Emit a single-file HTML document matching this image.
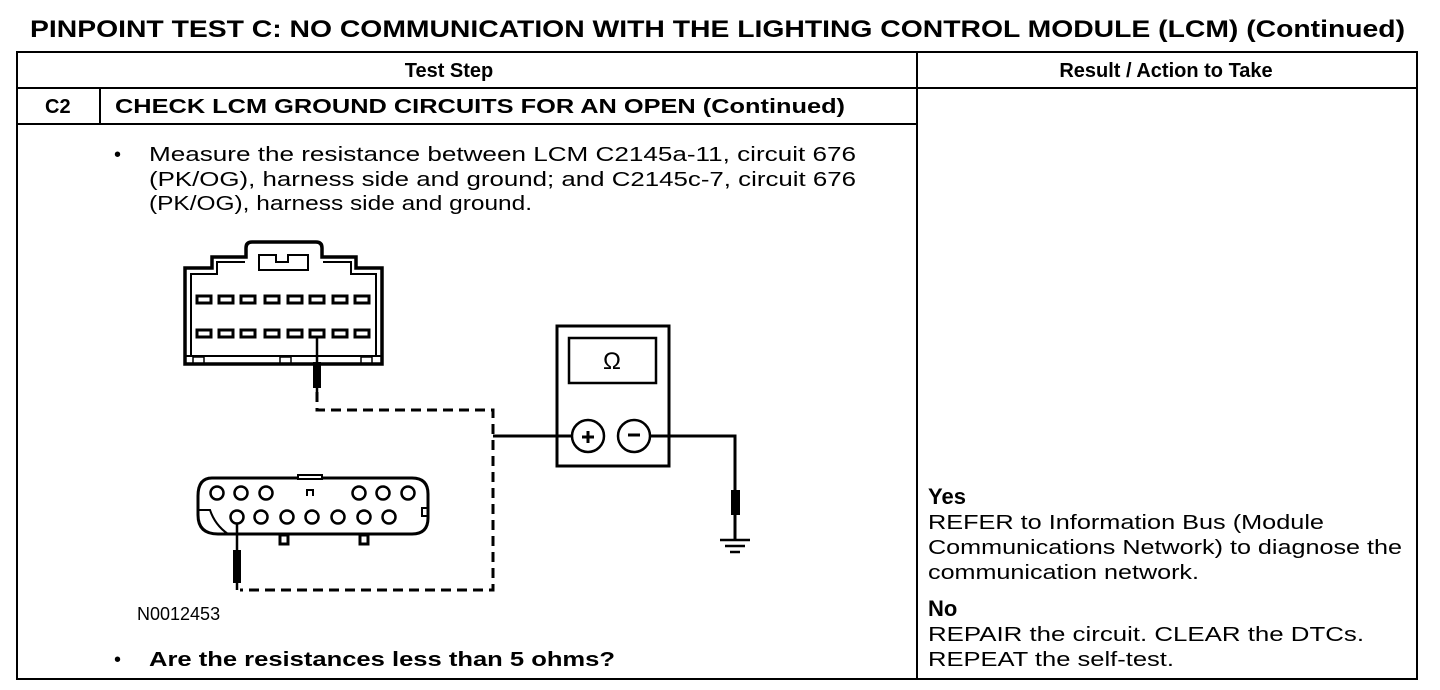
<!DOCTYPE html>
<html><head><meta charset="utf-8"><style>
html,body{margin:0;padding:0;background:#fff;}
svg{display:block;}
text{font-family:"Liberation Sans",Arial,sans-serif;fill:#000;}
.b{font-weight:bold;}
</style></head><body>
<svg width="1440" height="690" viewBox="0 0 1440 690" xmlns="http://www.w3.org/2000/svg">
<text x="30" y="37" class="b" font-size="24" textLength="1375" lengthAdjust="spacingAndGlyphs">PINPOINT TEST C: NO COMMUNICATION WITH THE LIGHTING CONTROL MODULE (LCM) (Continued)</text>
<g stroke="#000" stroke-width="2" fill="none">
<rect x="17" y="52" width="1400" height="627"/>
<line x1="917" y1="52" x2="917" y2="679"/>
<line x1="17" y1="88" x2="1417" y2="88"/>
<line x1="17" y1="124" x2="917" y2="124"/>
<line x1="100" y1="88" x2="100" y2="124"/>
</g>
<text x="449" y="77" class="b" font-size="20" text-anchor="middle">Test Step</text>
<text x="1166" y="77" class="b" font-size="20" text-anchor="middle">Result / Action to Take</text>
<text x="45" y="113" class="b" font-size="20">C2</text>
<text x="115" y="113" class="b" font-size="20" textLength="730" lengthAdjust="spacingAndGlyphs">CHECK LCM GROUND CIRCUITS FOR AN OPEN (Continued)</text>
<text x="114" y="161" font-size="20">•</text>
<text x="149" y="161" font-size="20" textLength="707" lengthAdjust="spacingAndGlyphs">Measure the resistance between LCM C2145a-11, circuit 676</text>
<text x="149" y="186" font-size="20" textLength="707" lengthAdjust="spacingAndGlyphs">(PK/OG), harness side and ground; and C2145c-7, circuit 676</text>
<text x="149" y="210" font-size="20" textLength="383" lengthAdjust="spacingAndGlyphs">(PK/OG), harness side and ground.</text>
<text x="137" y="620" font-size="18">N0012453</text>
<text x="114" y="666" font-size="20">•</text>
<text x="149" y="666" class="b" font-size="20" textLength="466" lengthAdjust="spacingAndGlyphs">Are the resistances less than 5 ohms?</text>
<text x="928" y="504" class="b" font-size="22">Yes</text>
<text x="928" y="529" font-size="20" textLength="396" lengthAdjust="spacingAndGlyphs">REFER to Information Bus (Module</text>
<text x="928" y="554" font-size="20" textLength="474" lengthAdjust="spacingAndGlyphs">Communications Network) to diagnose the</text>
<text x="928" y="579" font-size="20" textLength="271" lengthAdjust="spacingAndGlyphs">communication network.</text>
<text x="928" y="616" class="b" font-size="22">No</text>
<text x="928" y="641" font-size="20" textLength="436" lengthAdjust="spacingAndGlyphs">REPAIR the circuit. CLEAR the DTCs.</text>
<text x="928" y="666" font-size="20" textLength="246" lengthAdjust="spacingAndGlyphs">REPEAT the self-test.</text>

<!-- top connector -->
<g stroke="#000" fill="none">
<path d="M185,364 L185,268 L212,268 L212,257 L246,257 L246,248 Q246,242 252,242 L316,242 Q322,242 322,248 L322,257 L356,257 L356,268 L382,268 L382,364 Z" stroke-width="3.5"/>
<path d="M191,356 L191,274 L217,274 L217,262 L245,262 M323,262 L351,262 L351,274 L376,274 L376,356" stroke-width="2"/>
<path d="M259,255 L276,255 L276,262 L288,262 L288,255 L308,255 L308,270 L259,270 Z" stroke-width="2"/>
<line x1="185" y1="356" x2="382" y2="356" stroke-width="2"/>
</g>
<g fill="#fff" stroke="#000" stroke-width="3">
<rect x="197" y="296" width="14" height="7"/><rect x="219" y="296" width="14" height="7"/><rect x="241" y="296" width="14" height="7"/><rect x="265" y="296" width="14" height="7"/><rect x="288" y="296" width="14" height="7"/><rect x="310" y="296" width="14" height="7"/><rect x="333" y="296" width="14" height="7"/><rect x="355" y="296" width="14" height="7"/>
<rect x="197" y="330" width="14" height="7"/><rect x="219" y="330" width="14" height="7"/><rect x="241" y="330" width="14" height="7"/><rect x="265" y="330" width="14" height="7"/><rect x="288" y="330" width="14" height="7"/><rect x="310" y="330" width="14" height="7"/><rect x="333" y="330" width="14" height="7"/><rect x="355" y="330" width="14" height="7"/>
<rect x="193" y="357" width="11" height="6" stroke-width="1.5"/><rect x="280" y="357" width="11" height="6" stroke-width="1.5"/><rect x="361" y="357" width="11" height="6" stroke-width="1.5"/>
</g>
<line x1="317" y1="337" x2="317" y2="392" stroke="#000" stroke-width="2.5"/>
<rect x="313" y="362" width="8" height="26" fill="#000"/>

<!-- bottom connector -->
<g stroke="#000" stroke-width="3" fill="none">
<path d="M212,478 L412,478 Q428,478 428,494 L428,518 Q428,534 412,534 L218,534 Q198,534 198,515 L198,496 Q198,478 212,478 Z"/>
<path d="M198,510 L210,510 Q215,525 228,534" stroke-width="2"/>
<rect x="298" y="475" width="24" height="4" fill="#fff" stroke-width="2"/>
<path d="M307,496 L307,490 L313,490 L313,496" stroke-width="2"/>
<rect x="422" y="508" width="6" height="8" stroke-width="2"/>
<rect x="280" y="535" width="8" height="9"/><rect x="360" y="535" width="8" height="9"/>
</g>
<g fill="#fff" stroke="#000" stroke-width="2.5">
<circle cx="217" cy="493" r="6.5"/><circle cx="241" cy="493" r="6.5"/><circle cx="266" cy="493" r="6.5"/>
<circle cx="359" cy="493" r="6.5"/><circle cx="383" cy="493" r="6.5"/><circle cx="408" cy="493" r="6.5"/>
<circle cx="237" cy="517" r="6.5"/><circle cx="261" cy="517" r="6.5"/><circle cx="287" cy="517" r="6.5"/><circle cx="312" cy="517" r="6.5"/><circle cx="338" cy="517" r="6.5"/><circle cx="364" cy="517" r="6.5"/><circle cx="389" cy="517" r="6.5"/>
</g>
<line x1="237" y1="524" x2="237" y2="590" stroke="#000" stroke-width="2.5"/>
<rect x="233" y="550" width="8" height="33" fill="#000"/>

<!-- dashed wiring -->
<g stroke="#000" stroke-width="3" fill="none" stroke-dasharray="10,6">
<path d="M317,392 L317,410 L493,410 L493,590 L240,590"/>
</g>

<!-- meter -->
<g stroke="#000" stroke-width="3" fill="none">
<rect x="557" y="326" width="112" height="140"/>
<rect x="569" y="338" width="87" height="45" stroke-width="2.5"/>
<circle cx="588" cy="436" r="16" fill="#fff" stroke-width="2.5"/>
<circle cx="634" cy="436" r="16" fill="#fff" stroke-width="2.5"/>
<line x1="493" y1="436" x2="572" y2="436" stroke-width="3"/>
<path d="M650,436 L735,436 L735,540" stroke-width="3"/>
<line x1="720" y1="540" x2="750" y2="540" stroke-width="2.5"/>
<line x1="725" y1="546" x2="745" y2="546" stroke-width="2.5"/>
<line x1="730" y1="552" x2="740" y2="552" stroke-width="2.5"/>
</g>
<rect x="731" y="490" width="9" height="25" fill="#000"/>
<text x="612" y="369" font-size="24" text-anchor="middle">Ω</text>
<line x1="582" y1="437" x2="594" y2="437" stroke="#000" stroke-width="3"/>
<line x1="588" y1="431" x2="588" y2="443" stroke="#000" stroke-width="3"/>
<line x1="628" y1="435" x2="640" y2="435" stroke="#000" stroke-width="3"/>
</svg>
</body></html>
